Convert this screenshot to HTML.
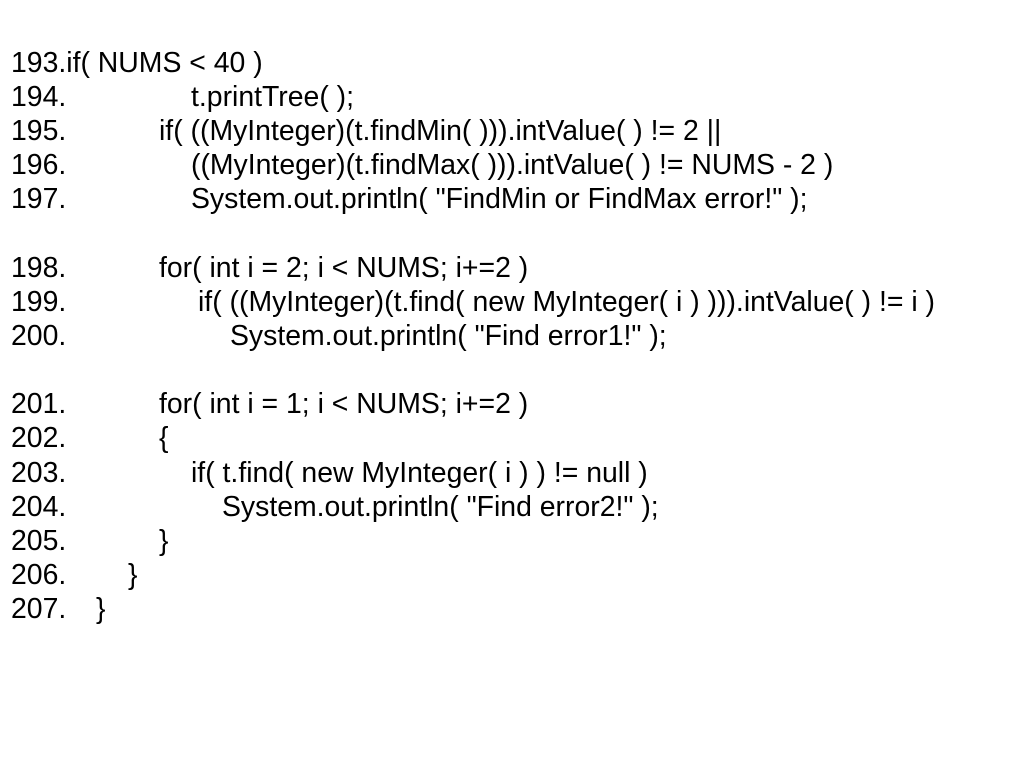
<!DOCTYPE html>
<html>
<head>
<meta charset="utf-8">
<style>
html,body{margin:0;padding:0;background:#fff;}
body{width:1024px;height:768px;position:relative;overflow:hidden;font-family:"Liberation Sans",Arial,sans-serif;font-size:28.4px;color:#000;}
span{position:absolute;white-space:pre;line-height:30px;}
</style>
</head>
<body>
<span style="left:11px;top:48px">193.if( NUMS &lt; 40 )</span>
<span style="left:11px;top:82px">194.</span><span style="left:191px;top:82px">t.printTree( );</span>
<span style="left:11px;top:116px">195.</span><span style="left:159px;top:116px">if( ((MyInteger)(t.findMin( ))).intValue( ) != 2 ||</span>
<span style="left:11px;top:150px">196.</span><span style="left:191px;top:150px">((MyInteger)(t.findMax( ))).intValue( ) != NUMS - 2 )</span>
<span style="left:11px;top:184px">197.</span><span style="left:191px;top:184px">System.out.println( "FindMin or FindMax error!" );</span>
<span style="left:11px;top:253px">198.</span><span style="left:159px;top:253px">for( int i = 2; i &lt; NUMS; i+=2 )</span>
<span style="left:11px;top:287px">199.</span><span style="left:198px;top:287px">if( ((MyInteger)(t.find( new MyInteger( i ) ))).intValue( ) != i )</span>
<span style="left:11px;top:321px">200.</span><span style="left:230px;top:321px">System.out.println( "Find error1!" );</span>
<span style="left:11px;top:389px">201.</span><span style="left:159px;top:389px">for( int i = 1; i &lt; NUMS; i+=2 )</span>
<span style="left:11px;top:423px">202.</span><span style="left:159px;top:423px">{</span>
<span style="left:11px;top:458px">203.</span><span style="left:191px;top:458px">if( t.find( new MyInteger( i ) ) != null )</span>
<span style="left:11px;top:492px">204.</span><span style="left:222px;top:492px">System.out.println( "Find error2!" );</span>
<span style="left:11px;top:526px">205.</span><span style="left:159px;top:526px">}</span>
<span style="left:11px;top:560px">206.</span><span style="left:128px;top:560px">}</span>
<span style="left:11px;top:594px">207.</span><span style="left:96px;top:594px">}</span>
</body>
</html>
